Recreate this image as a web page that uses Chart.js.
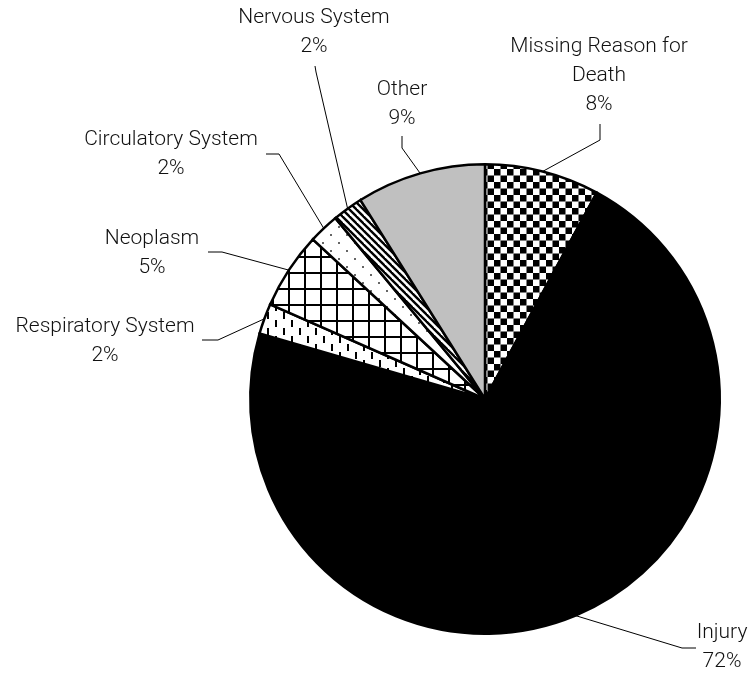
<!DOCTYPE html>
<html>
<head>
<meta charset="utf-8">
<script src="https://cdn.jsdelivr.net/npm/chart.js@4/dist/chart.umd.min.js"></script>
<style>
    html, body { margin: 0; padding: 0; background: #fff; }
    #wrap { width: 755px; height: 676px; }
</style>
</head>
<body>
<div id="wrap"><canvas id="pieChart" width="755" height="676"></canvas></div>
<script>
// Data (clockwise from 12 o'clock)
const categories = ['Missing Reason for Death', 'Injury', 'Respiratory System', 'Neoplasm', 'Circulatory System', 'Nervous System', 'Other'];
const shares = [7.9, 71.6, 2.1, 5.3, 2.1, 2.1, 8.9];
// how each label is broken into lines
const labelLines = [['Missing Reason for', 'Death'], ['Injury'], ['Respiratory System'], ['Neoplasm'], ['Circulatory System'], ['Nervous System'], ['Other']];

// Fill patterns
function makePattern(size, draw) {
    const c = document.createElement('canvas');
    c.width = size; c.height = size;
    const g = c.getContext('2d');
    g.fillStyle = '#fff';
    g.fillRect(0, 0, size, size);
    draw(g, size);
    return g.createPattern(c, 'repeat');
}

const checker = makePattern(13, (g) => {
    g.fillStyle = '#000';
    g.fillRect(0, 0, 6.5, 6.5);
    g.fillRect(6.5, 6.5, 6.5, 6.5);
});
const dashes = makePattern(16, (g) => {
    g.fillStyle = '#000';
    g.fillRect(3, 0, 2, 7);
    g.fillRect(11, 8, 2, 7);
});
const grid = makePattern(16, (g) => {
    g.fillStyle = '#000';
    g.fillRect(0, 0, 16, 2);
    g.fillRect(0, 0, 2, 16);
});
const dots = makePattern(16, (g) => {
    g.fillStyle = '#666';
    g.fillRect(2, 2, 2, 2);
    g.fillRect(10, 10, 2, 2);
});
const stripes = makePattern(7, (g, s) => {
    g.strokeStyle = '#000';
    g.lineWidth = 2.4;
    for (let k = -1; k <= 1; k++) {
        g.beginPath();
        g.moveTo(k * s - 1, -1);
        g.lineTo(k * s + s + 1, s + 1);
        g.stroke();
    }
});

const fills = [checker, '#000', dashes, grid, dots, stripes, '#c0c0c0'];

// Label placement: text centre, first line y, and leader elbow
const labelSpots = [
    { x: 599, y: 47, elbow: [[600, 124], [600, 140]] },
    { x: 722, y: 633, elbow: [[696, 648], [682, 648]] },
    { x: 105, y: 327, elbow: [[202, 340], [218, 340]] },
    { x: 152, y: 239, elbow: [[208, 252], [222, 252]] },
    { x: 171, y: 140, elbow: [[266, 154], [279, 154]] },
    { x: 314, y: 18, elbow: [[315, 66], [316, 72]] },
    { x: 402, y: 90, elbow: [[402, 136], [402, 148]] }
];

const outsideLabels = {
    id: 'outsideLabels',
    afterDraw(chart) {
        const ctx = chart.ctx;
        const arcs = chart.getDatasetMeta(0).data;
        const total = shares.reduce((a, b) => a + b, 0);
        ctx.save();
        ctx.font = '300 21px Roboto';
        ctx.fillStyle = '#111';
        ctx.textAlign = 'center';
        ctx.textBaseline = 'middle';
        arcs.forEach((arc, i) => {
            const spot = labelSpots[i];
            const lines = labelLines[i].concat([Math.round(shares[i] / total * 100) + '%']);
            lines.forEach((t, j) => ctx.fillText(t, spot.x, spot.y + j * 29));

            // leader line to the middle of the slice edge
            const mid = (arc.startAngle + arc.endAngle) / 2;
            const ax = arc.x + Math.cos(mid) * arc.outerRadius;
            const ay = arc.y + Math.sin(mid) * arc.outerRadius;
            ctx.beginPath();
            ctx.strokeStyle = '#000';
            ctx.lineWidth = 1;
            ctx.moveTo(spot.elbow[0][0], spot.elbow[0][1]);
            ctx.lineTo(spot.elbow[1][0], spot.elbow[1][1]);
            ctx.lineTo(ax, ay);
            ctx.stroke();
        });
        ctx.restore();
    }
};

const pieCtx = document.getElementById('pieChart').getContext('2d');
const pieChart = new Chart(pieCtx, {
    type: 'pie',
    data: {
        labels: categories,
        datasets: [{
            data: shares,
            backgroundColor: fills,
            borderColor: '#000',
            borderWidth: 2.5,
            borderJoinStyle: 'miter'
        }]
    },
    options: {
        responsive: false,
        animation: false,
        layout: {
            padding: { left: 249, right: 34, top: 163, bottom: 41 }
        },
        plugins: {
            legend: { display: false },
            tooltip: { enabled: false }
        }
    },
    plugins: [outsideLabels]
});
</script>
</body>
</html>
